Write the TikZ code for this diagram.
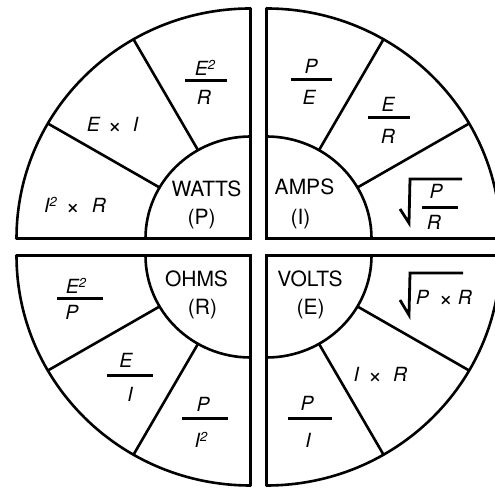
\documentclass[tikz,border=0pt]{standalone}
\usepackage{fontspec}
\setmainfont{TeX Gyre Heros}
\usetikzlibrary{calc}
\newcommand{\sqd}{\raisebox{0.33em}{\fontsize{13bp}{13bp}\selectfont\itshape 2}}
\newcommand{\tms}{\raisebox{-1.2bp}{\upshape\fontsize{24bp}{24bp}\selectfont ×}}
\begin{document}
\begin{tikzpicture}[x=1bp,y=1bp,
  edgeline/.style={line width=3.3bp, line cap=round},
  arcline/.style={line width=2.6bp},
  divline/.style={line width=2.6bp},
  barline/.style={line width=3bp},
  radline/.style={line width=2.8bp, line join=miter},
  unit/.style={font=\fontsize{21bp}{23bp}\selectfont, inner sep=0pt, anchor=base},
  var/.style={font=\fontsize{19.5bp}{21bp}\selectfont\itshape, inner sep=0pt, anchor=base},
]
\useasboundingbox (0,0) rectangle (495,490);
\fill[white] (0,0) rectangle (495,490);
\def\Rx{234}\def\Ry{230}\def\rx{105}\def\ry{102}
\coordinate (tl) at (250.5,251.5);
\coordinate (tr) at (266.5,251.5);
\coordinate (bl) at (250.5,234.5);
\coordinate (br) at (266.5,234.5);
% outer arcs
\draw[arcline] (tl) ++(-\Rx,0) arc[start angle=180,end angle=90,x radius=\Rx,y radius=\Ry];
\draw[arcline] (tr) ++(0,\Ry) arc[start angle=90,end angle=0,x radius=\Rx,y radius=\Ry];
\draw[arcline] (bl) ++(-\Rx,0) arc[start angle=180,end angle=270,x radius=\Rx,y radius=\Ry];
\draw[arcline] (br) ++(\Rx,0) arc[start angle=0,end angle=-90,x radius=\Rx,y radius=\Ry];
% straight edges
\draw[edgeline] ($(tl)+(-\Rx,0)$) -- (tl) -- ($(tl)+(0,\Ry)$);
\draw[edgeline] ($(tr)+(\Rx,0)$) -- (tr) -- ($(tr)+(0,\Ry)$);
\draw[edgeline] ($(bl)+(-\Rx,0)$) -- (bl) -- ($(bl)+(0,-\Ry)$);
\draw[edgeline] ($(br)+(\Rx,0)$) -- (br) -- ($(br)+(0,-\Ry)$);
% inner arcs
\draw[arcline] (tl) ++(-\rx,0) arc[start angle=180,end angle=90,x radius=\rx,y radius=\ry];
\draw[arcline] (tr) ++(0,\ry) arc[start angle=90,end angle=0,x radius=\rx,y radius=\ry];
\draw[arcline] (bl) ++(-\rx,0) arc[start angle=180,end angle=270,x radius=\rx,y radius=\ry];
\draw[arcline] (br) ++(\rx,0) arc[start angle=0,end angle=-90,x radius=\rx,y radius=\ry];
% dividers
\foreach \c/\a in {tl/120,tl/150,tr/60,tr/30,bl/210,bl/240,br/-30,br/-60}{
  \draw[divline] ($(\c)+({\rx*cos(\a)},{\ry*sin(\a)})$) -- ($(\c)+({\Rx*cos(\a)},{\Ry*sin(\a)})$);
}
% centre labels
\node[unit] (watts) at (206.5,293) {WATTS};
\node[unit] (wp) at (201.5,265) {(P)};
\node[unit] (amps) at (304.5,295) {AMPS};
\node[unit] (ai) at (300.5,265) {(I)};
\node[unit] (ohms) at (196.5,203) {OHMS};
\node[unit] (or) at (202.5,175) {(R)};
\node[unit] (volts) at (310,203) {VOLTS};
\node[unit] (ve) at (310.5,175) {(E)};
% watts quadrant
\node[var] (w1n) at (205,414) {E\sqd};
\draw[barline] (185,409) -- (227,409);
\node[var] (w1d) at (204,385) {R};
\node[var] (w2) at (112.5,358) {E\hspace{8bp}\tms\hspace{11bp}I};
\node[var] (w3) at (75,277) {I\sqd\hspace{9bp}\tms\hspace{12bp}R};
% amps quadrant
\node[var] (a1n) at (311,416) {P};
\draw[barline] (291,410) -- (332,410);
\node[var] (a1d) at (309,385) {E};
\node[var] (a2n) at (388,378) {E};
\draw[barline] (368,372) -- (410,372);
\node[var] (a2d) at (388,346) {R};
\node[var] (a3n) at (436,291) {P};
\draw[barline] (422,282) -- (458,282);
\node[var] (a3d) at (434,260) {R};
\draw[radline] (400,281) -- (409,267) -- (410,311) -- (462,311);
% ohms quadrant
\node[var] (o1n) at (76,196) {E\sqd};
\draw[barline] (57,191) -- (103,191);
\node[var] (o1d) at (72,170) {P};
\node[var] (o2n) at (126,122) {E};
\draw[barline] (107,114) -- (153,114);
\node[var] (o2d) at (130,88) {I};
\node[var] (o3n) at (203,78) {P};
\draw[barline] (182,71) -- (228,71);
\node[var] (o3d) at (201,42) {I\sqd};
% volts quadrant
\node[var] (v1) at (444,185) {P\hspace{10bp}\tms\hspace{5bp}R};
\draw[radline] (400,190) -- (409,175) -- (410,217) -- (463,217);
\node[var] (v2) at (380.5,108) {I\hspace{9bp}\tms\hspace{11bp}R};
\node[var] (v3n) at (307,79) {P};
\draw[barline] (288,71) -- (332,71);
\node[var] (v3d) at (308,42) {I};
\end{tikzpicture}
\end{document}
